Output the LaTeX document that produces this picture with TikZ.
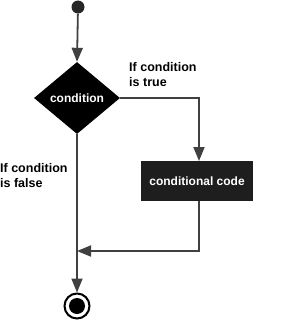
\documentclass[tikz,border=0pt]{standalone}
\usepackage{fontspec}
\setmainfont{Liberation Sans}
\usetikzlibrary{shapes.geometric,arrows.meta}
\definecolor{linegray}{HTML}{404040}
\definecolor{boxfill}{HTML}{1E1E1E}
\tikzset{
  conn/.style={draw=linegray, line width=1.8pt, -{Triangle[length=14pt,width=11pt]}},
  lbl/.style={font=\bfseries\fontsize{12.5}{15}\selectfont, align=left, inner sep=0pt, anchor=north west},
  wtext/.style={text=white, font=\bfseries\fontsize{12}{14}\selectfont}
}
\begin{document}
\begin{tikzpicture}[x=1pt,y=1pt]
\useasboundingbox (0,0) rectangle (286,-326);
\node[circle, fill=linegray!60!black, minimum size=13pt, inner sep=0pt] (start) at (78,-7) {};
\node[diamond, fill=black, minimum width=86pt, minimum height=72pt, inner sep=0pt, wtext] (cond) at (77,-98) {condition};
\node[rectangle, fill=boxfill, minimum width=112pt, minimum height=40pt, inner sep=0pt, wtext] (code) at (197,-181) {conditional code};
\node[circle, draw=black, line width=2pt, minimum size=25pt, inner sep=0pt] (end) at (77,-306) {};
\node[circle, fill=black, minimum size=16pt, inner sep=0pt] (endin) at (end.center) {};
\coordinate (j) at (77,-251);
\coordinate (ctop) at (199,-161);
\coordinate (cbot) at (199,-201);
\draw[conn] (start) -- (cond.north);
\draw[conn] (cond.east) -| (ctop);
\draw[conn] (cbot) |- (j);
\draw[conn] (cond.south) -- (end.north);
\node[lbl] (ltrue) at (129,-62) {If condition\\is true};
\node[lbl] (lfalse) at (0,-163) {If condition\\is false};
\end{tikzpicture}
\end{document}
